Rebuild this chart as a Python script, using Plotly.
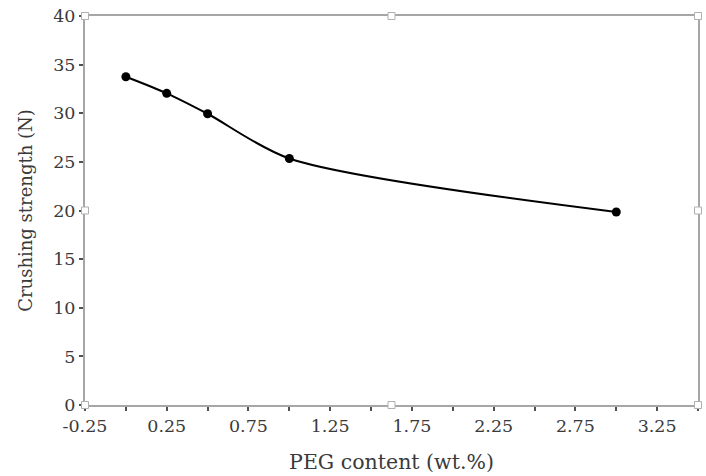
import plotly.graph_objects as go

peg = [0, 0.25, 0.5, 1.0, 3.0]
strength = [33.75, 32.05, 29.95, 25.35, 19.85]

x_tickvals = [-0.25, 0.0, 0.25, 0.5, 0.75, 1.0, 1.25, 1.5, 1.75, 2.0, 2.25, 2.5, 2.75, 3.0, 3.25, 3.5]
x_ticktext = ["-0.25", "", "0.25", "", "0.75", "", "1.25", "", "1.75", "", "2.25", "", "2.75", "", "3.25", ""]
y_tickvals = [0, 5, 10, 15, 20, 25, 30, 35, 40]

font_family = "DejaVu Serif, serif"
text_color = "#3a3a3a"

fig = go.Figure()
fig.add_trace(go.Scatter(
    x=peg, y=strength, mode="lines+markers",
    line=dict(color="black", width=2, shape="spline", smoothing=0.8),
    marker=dict(color="black", size=9),
    showlegend=False,
))

axis_common = dict(
    showline=True, linecolor="#a6a6a6", linewidth=2, mirror=True,
    showgrid=False, zeroline=False, ticks="outside", ticklen=4,
    tickcolor="#505050", tickwidth=1.5,
    tickfont=dict(family=font_family, size=17.5, color=text_color),
)

fig.update_xaxes(range=[-0.25, 3.5], tickvals=x_tickvals, ticktext=x_ticktext,
                 title=dict(text="PEG content (wt.%)", font=dict(family=font_family, size=20.5, color=text_color), standoff=20),
                 **axis_common)
fig.update_yaxes(range=[0, 40], tickvals=y_tickvals,
                 title=dict(text="Crushing strength (N)", font=dict(family=font_family, size=18, color=text_color), standoff=16),
                 **axis_common)

# selection-handle squares at corners and midpoints of the plot frame
handles = [(0, 0), (0, 0.5), (0, 1), (0.5, 1), (1, 1), (1, 0.5), (1, 0), (0.5, 0)]
for hx, hy in handles:
    fig.add_shape(type="rect", xref="paper", yref="paper",
                  x0=-3.5, x1=3.5, y0=-3.5, y1=3.5,
                  xsizemode="pixel", ysizemode="pixel", xanchor=hx, yanchor=hy,
                  line=dict(color="#b0b0b0", width=1), fillcolor="white")

fig.update_layout(
    width=706, height=476,
    margin=dict(l=85, r=6, t=14, b=71),
    plot_bgcolor="white", paper_bgcolor="white",
)

fig.write_html("out.html")
